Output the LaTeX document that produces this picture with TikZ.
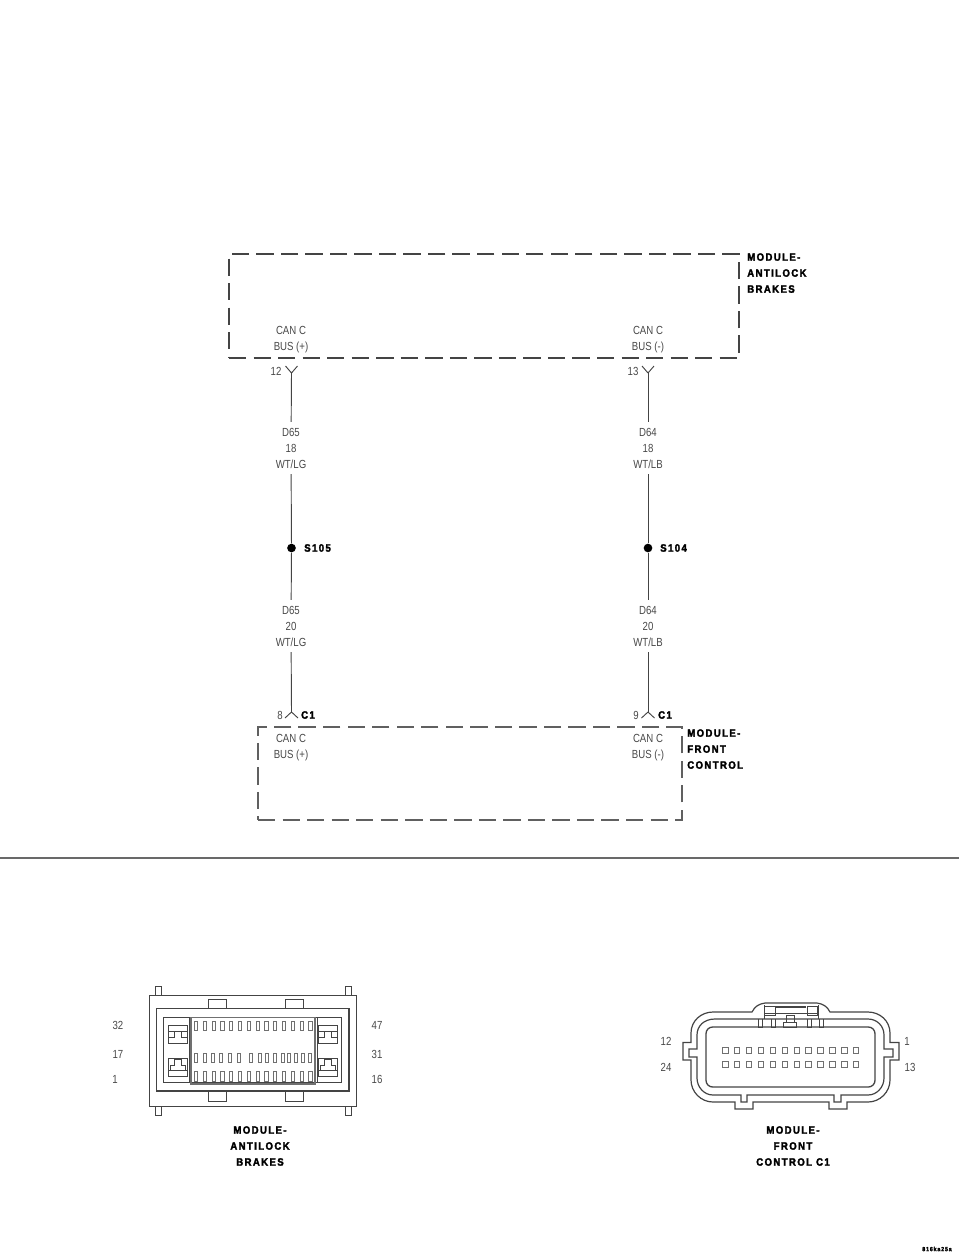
\documentclass[tikz,border=0pt]{standalone}
\usepackage{fontspec}
\setmainfont[FakeStretch=0.82]{Liberation Sans}
\newfontfamily\boldlabel[LetterSpace=13,FakeStretch=0.9,FakeBold=2.4]{Liberation Sans Bold}
\usetikzlibrary{positioning}
\definecolor{wiregray}{HTML}{444444}
\definecolor{textgray}{HTML}{484848}
\definecolor{pingray}{HTML}{707070}

\begin{document}
\begin{tikzpicture}[x=0.75pt, y=-0.75pt, node distance=12pt]
\tikzstyle{modbox} = [rectangle, inner sep=0pt, draw=wiregray, line width=1.9pt, dash pattern=on 13pt off 5.4pt]
\tikzstyle{wirelabel} = [align=center, font=\fontsize{8.8}{12}\selectfont, text=textgray, inner xsep=3pt, inner ysep=4.2pt]
\tikzstyle{pinlabel} = [font=\fontsize{8.8}{12}\selectfont, text=textgray, inner sep=0pt]
\tikzstyle{modlabel} = [align=left, font=\boldlabel\fontsize{8}{12}\selectfont, inner sep=0pt]
\tikzstyle{caption} = [align=center, font=\boldlabel\fontsize{8}{12}\selectfont, inner sep=0pt]
\tikzstyle{splice} = [circle, fill=black, inner sep=0pt, minimum size=6.5pt]
\tikzstyle{wire} = [draw=wiregray, line width=0.7pt]
\tikzstyle{shell} = [draw=wiregray, line width=0.7pt]
\tikzstyle{pinmark} = [draw=pingray, line width=0.7pt]
\useasboundingbox (0,0) rectangle (960,1257);

 %module boxes
\node (absbox) [modbox, minimum width=382.5pt, minimum height=78pt] at (484,306) {};
\node (fcbox) [modbox, minimum width=318pt, minimum height=69.75pt, line width=1.4pt, draw=wiregray!85] at (470,773.5) {};
\node (abstext) [modlabel, anchor=north west] at (747,253) {MODULE-\\ANTILOCK\\BRAKES};
\node (fctext) [modlabel, anchor=north west] at (687,729) {MODULE-\\FRONT\\CONTROL};

 %pins of the modules
\node (canA) [wirelabel] at (291,339.5) {CAN C\\BUS (+)};
\node (canB) [wirelabel] at (648,339.5) {CAN C\\BUS (-)};
\node (canC) [wirelabel] at (291,747.5) {CAN C\\BUS (+)};
\node (canD) [wirelabel] at (648,747.5) {CAN C\\BUS (-)};
\node (pinA) [pinlabel] at (276,371) {12};
\node (pinB) [pinlabel] at (633,371) {13};
\node (pinC) [pinlabel] at (280,715) {8};
\node (pinD) [pinlabel] at (636,715) {9};
\node (cA) [modlabel] at (308,715) {C1};
\node (cB) [modlabel] at (665,715) {C1};

 %wires
\coordinate (forkA) at (291.5,373);
\coordinate (forkB) at (648,373);
\coordinate (forkC) at (291.5,712);
\coordinate (forkD) at (648,712);
\node (wireA) [wirelabel] at (291,448) {D65\\18\\WT/LG};
\node (wireB) [wirelabel] at (648,448) {D64\\18\\WT/LB};
\node (s105) [splice] at (291.5,548) {};
\node (s104) [splice] at (648,548) {};
\node (s105text) [modlabel, anchor=west] at (304,548) {S105};
\node (s104text) [modlabel, anchor=west] at (660,548) {S104};
\node (wireC) [wirelabel] at (291,626) {D65\\20\\WT/LG};
\node (wireD) [wirelabel] at (648,626) {D64\\20\\WT/LB};

\draw [wire](forkA) -- (wireA);
\draw [wire](wireA) -- (s105);
\draw [wire](s105) -- (wireC);
\draw [wire](wireC) -- (forkC);
\draw [wire](forkB) -- (wireB);
\draw [wire](wireB) -- (s104);
\draw [wire](s104) -- (wireD);
\draw [wire](wireD) -- (forkD);
\foreach \f in {forkA, forkB} {
  \draw [wire] (\f) -- ++(-6,-7) (\f) -- ++(6,-7);
}
\foreach \f in {forkC, forkD} {
  \draw [wire] (\f) -- ++(-6.5,6) (\f) -- ++(6.5,6);
}

 %divider
\coordinate (ruleL) at (0,858);
\coordinate (ruleR) at (959,858);
\draw [draw=wiregray!80, line width=0.8pt](ruleL) -- (ruleR);

 %antilock brakes connector
\draw [shell] (149.5,995) rectangle (356.5,1106);
\draw [shell, line width=1pt] (156.5,1008.5) rectangle (349,1091);
\draw [shell, line width=1pt] (163.5,1017.5) rectangle (341.5,1082.5);
\draw [draw=pingray, line width=1.3pt] (191,1017.5) rectangle (315,1084);
\draw [shell] (189,1017.5) -- (189,1082.5) (317,1017.5) -- (317,1082.5);
\foreach \x in {208.7, 285.7} {
  \draw [shell] (\x,1008.5) -- (\x,999.5) -- (\x+17.5,999.5) -- (\x+17.5,1008.5);
  \draw [shell] (\x,1091) -- (\x,1101.5) -- (\x+17.5,1101.5) -- (\x+17.5,1091);
}
\foreach \x in {155.5, 345.5} {
  \draw [shell] (\x,995) -- (\x,986) -- (\x+5.5,986) -- (\x+5.5,995);
  \draw [shell] (\x,1106) -- (\x,1115) -- (\x+5.5,1115) -- (\x+5.5,1106);
}
 %pins, three rows
\foreach \x in {196,204.8,...,311} {
  \draw [pinmark] (\x-1.6,1021) rectangle (\x+1.6,1030.5);
  \draw [pinmark] (\x-1.6,1071) rectangle (\x+1.6,1081);
}
\foreach \x in {196,205,213.3,221,230,239,251,260,266.7,275,282.7,289,296,303.3,310} {
  \draw [pinmark] (\x-1.6,1053) rectangle (\x+1.6,1062.5);
}
 %latches
\foreach \x in {168.7, 318.5} {
  \draw [shell] (\x,1025) rectangle (\x+19,1043);
  \draw [shell] (\x,1031) -- (\x+19,1031) (\x+6,1031) -- (\x+6,1037) -- (\x,1037) (\x+13,1031) -- (\x+13,1037) -- (\x+19,1037);
  \draw [shell] (\x,1058) rectangle (\x+19,1076);
  \draw [shell] (\x,1070) -- (\x+19,1070) (\x+2,1070) -- (\x+2,1065) -- (\x+6,1065) -- (\x+6,1059) -- (\x+13,1059) -- (\x+13,1065) -- (\x+17,1065) -- (\x+17,1070);
}
\node (absA) [pinlabel] at (118,1025) {32};
\node (absB) [pinlabel] at (118,1054) {17};
\node (absC) [pinlabel] at (115,1079) {1};
\node (absD) [pinlabel] at (377,1025) {47};
\node (absE) [pinlabel] at (377,1054) {31};
\node (absF) [pinlabel] at (377,1079) {16};
\node (abscap) [caption] at (260,1146) {MODULE-\\ANTILOCK\\BRAKES};

 %front control connector
\draw [shell, line width=0.9pt] (752,1012) .. controls (755,1006) and (759,1004) .. (765,1003) -- (817,1003) .. controls (823,1004) and (827,1006) .. (830,1012) -- (868,1012) .. controls (880,1012) and (890,1021) .. (890,1033) -- (890,1042.5) -- (899,1042.5) -- (899,1060) -- (890,1060) -- (890,1080) .. controls (890,1092) and (880,1102) .. (868,1102) -- (847,1102) -- (847,1109) -- (829,1109) -- (829,1102) -- (753,1102) -- (753,1109) -- (735,1109) -- (735,1102) -- (713,1102) .. controls (701,1102) and (691,1092) .. (691,1080) -- (691,1060) -- (683,1060) -- (683,1042.5) -- (691,1042.5) -- (691,1033) .. controls (691,1021) and (701,1012) .. (713,1012) -- cycle;
\draw [shell, line width=0.9pt] (715,1019) -- (868,1019) .. controls (877,1019) and (884,1026) .. (884,1035) -- (884,1049) -- (893,1049) -- (893,1057) -- (884,1057) -- (884,1078) .. controls (884,1087) and (877,1095) .. (868,1095) -- (841,1095) -- (841,1102) -- (834,1102) -- (834,1095) -- (747,1095) -- (747,1102) -- (741,1102) -- (741,1095) -- (713,1095) .. controls (704,1095) and (697,1087) .. (697,1078) -- (697,1057) -- (689,1057) -- (689,1049) -- (697,1049) -- (697,1035) .. controls (697,1026) and (704,1019) .. (715,1019) -- cycle;
\draw [shell, line width=1pt, rounded corners=5pt] (706,1027) rectangle (875,1087);
 %latch on top
\draw [shell] (764,1019) -- (764,1005) (818,1019) -- (818,1005);
\draw [shell, line width=1.2pt] (776,1007) -- (806,1007);
\draw [shell] (764,1013) -- (818,1013);
\draw [shell] (764,1006.5) rectangle (775,1015) (807,1006.5) rectangle (817,1015);
\foreach \x in {758, 771, 807, 819} {
  \draw [shell] (\x,1019) -- (\x,1027) -- (\x+4.5,1027) -- (\x+4.5,1019);
}
\draw [shell] (783.5,1027) rectangle (796.5,1022) (786,1022) -- (786,1015) -- (794,1015) -- (794,1022);
 %pins, two rows
\foreach \x in {725.3,737.2,...,857} {
  \draw [pinmark] (\x-2.7,1067.5) rectangle (\x+2.7,1061.5);
  \draw [pinmark] (\x-2.7,1053.3) rectangle (\x+2.7,1047.3);
}
\node (fcA) [pinlabel] at (666,1041) {12};
\node (fcB) [pinlabel] at (666,1067) {24};
\node (fcC) [pinlabel] at (907,1041) {1};
\node (fcD) [pinlabel] at (910,1067) {13};
\node (fccap) [caption] at (793,1146) {MODULE-\\FRONT\\CONTROL C1};

\node (figid) [pinlabel, font=\boldlabel\fontsize{4.5}{6}\selectfont, text=black] at (937,1249) {816ka25a};
\end{tikzpicture}
\end{document}
